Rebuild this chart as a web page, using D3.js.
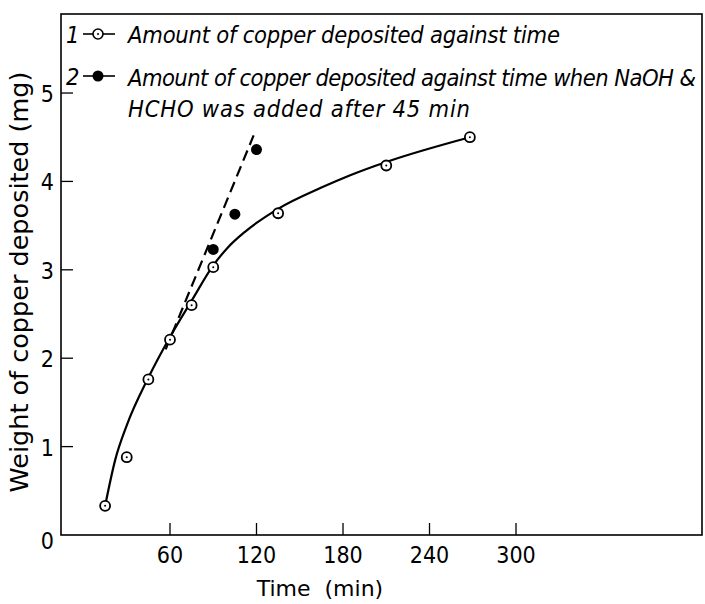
<!DOCTYPE html>
<html>
<head>
<meta charset="utf-8">
<script src="https://cdn.jsdelivr.net/npm/d3@7"></script>
<style>
  body { margin: 0; background: #fff; }
  svg text { fill: #000; }
  .tick-lab { font-family: "Liberation Sans Narrow", "DejaVu Sans Condensed", sans-serif; font-size: 23px; }
  .axis-title { font-family: "DejaVu Sans", sans-serif; font-size: 25.5px; }
  .legend { font-family: "Liberation Sans Narrow", "DejaVu Sans Condensed", sans-serif; font-size: 23.5px; font-style: italic; }
</style>
</head>
<body>
<svg id="chart" width="705" height="604"></svg>
<script>
// series 1: copper deposited against time (open circles)
const time1 = [15, 30, 45, 60, 75, 90, 135, 210, 268];
const weight1 = [0.33, 0.88, 1.76, 2.21, 2.6, 3.03, 3.64, 4.18, 4.5];
// smooth hand-drawn curve through series 1
const curveTime = [15, 22, 30, 45, 60, 75, 90, 100, 112, 135, 165, 185, 210, 268];
const curveWeight = [0.33, 0.85, 1.24, 1.78, 2.24, 2.65, 3.05, 3.25, 3.43, 3.69, 3.93, 4.07, 4.22, 4.5];
// series 2: NaOH & HCHO added after 45 min (filled circles)
const time2 = [90, 105, 120];
const weight2 = [3.23, 3.63, 4.36];
// dashed trend line for series 2
const dashTime = [57, 118];
const dashWeight = [2.1, 4.52];

const xTicks = [60, 120, 180, 240, 300];
const yTicks = [1, 2, 3, 4, 5];
const legendLines = [
  "Amount of copper deposited against time",
  "Amount of copper deposited against time when NaOH &",
  "HCHO was added after 45 min"
];

const width = 705, height = 604;
const margin = { top: 14, right: 3, bottom: 69, left: 61 };
const innerWidth = width - margin.left - margin.right,
  innerHeight = height - margin.top - margin.bottom;

const svg = d3.select('#chart');
const g = svg.append('g').attr('transform', `translate(${margin.left},${margin.top})`);

var xScale = d3.scaleLinear().domain([-15.6, 429]).range([0, innerWidth]);
var yScale = d3.scaleLinear().domain([0, 5.894]).range([innerHeight, 0]);

// frame
g.append('rect').attr('x', 0).attr('y', 0).attr('width', innerWidth).attr('height', innerHeight)
  .attr('fill', 'none').attr('stroke', '#000').attr('stroke-width', 1.6);

// x ticks (inward)
g.selectAll('.xtick').data(xTicks).join('line').attr('class', 'xtick')
  .attr('x1', d => xScale(d)).attr('x2', d => xScale(d))
  .attr('y1', innerHeight).attr('y2', innerHeight - 12)
  .attr('stroke', '#000').attr('stroke-width', 1.3);
g.selectAll('.xlab').data(xTicks).join('text').attr('class', 'xlab tick-lab')
  .attr('x', d => xScale(d)).attr('y', innerHeight + 28)
  .attr('text-anchor', 'middle').text(d => d);

// y ticks (inward)
g.selectAll('.ytick').data(yTicks).join('line').attr('class', 'ytick')
  .attr('x1', 0).attr('x2', 12)
  .attr('y1', d => yScale(d)).attr('y2', d => yScale(d))
  .attr('stroke', '#000').attr('stroke-width', 1.3);
g.selectAll('.ylab').data(yTicks).join('text').attr('class', 'ylab tick-lab')
  .attr('x', -7).attr('y', d => yScale(d) + 9)
  .attr('text-anchor', 'end').text(d => d);
// shared origin label
g.append('text').attr('class', 'tick-lab').attr('x', -7).attr('y', yScale(0) + 14)
  .attr('text-anchor', 'end').text('0');

// axis titles
g.append('text').attr('class', 'axis-title').attr('text-anchor', 'middle')
  .attr('transform', `translate(${-33},${yScale(0) - 253}) rotate(-90)`)
  .text('Weight of copper deposited (mg)');
g.append('text').attr('class', 'axis-title').attr('text-anchor', 'middle')
  .attr('x', xScale(164)).attr('y', innerHeight + 61).style('font-size', '22px')
  .style('white-space', 'pre').text('Time  (min)');

// solid curve
const curveData = curveTime.map((t, i) => [t, curveWeight[i]]);
const line = d3.line().x(d => xScale(d[0])).y(d => yScale(d[1])).curve(d3.curveMonotoneX);
g.append('path').datum(curveData).attr('d', line)
  .attr('fill', 'none').attr('stroke', '#000').attr('stroke-width', 2.2);

// dashed line
const dashData = dashTime.map((t, i) => [t, dashWeight[i]]);
g.append('path').datum(dashData).attr('d', d3.line().x(d => xScale(d[0])).y(d => yScale(d[1])))
  .attr('fill', 'none').attr('stroke', '#000').attr('stroke-width', 2.2).attr('stroke-dasharray', '11,6');

// open circles
const pts1 = time1.map((t, i) => [t, weight1[i]]);
g.selectAll('.open').data(pts1).join('circle').attr('class', 'open')
  .attr('cx', d => xScale(d[0])).attr('cy', d => yScale(d[1])).attr('r', 5)
  .attr('fill', '#fff').attr('stroke', '#000').attr('stroke-width', 1.8);
g.selectAll('.dot').data(pts1).join('circle').attr('class', 'dot')
  .attr('cx', d => xScale(d[0])).attr('cy', d => yScale(d[1])).attr('r', 1).attr('fill', '#000');

// filled circles
const pts2 = time2.map((t, i) => [t, weight2[i]]);
g.selectAll('.filled').data(pts2).join('circle').attr('class', 'filled')
  .attr('cx', d => xScale(d[0])).attr('cy', d => yScale(d[1])).attr('r', 5.5).attr('fill', '#000');

// legend
const leg = svg.append('g');
const legRows = [34, 76];
leg.selectAll('.num').data(['1', '2']).join('text').attr('class', 'legend')
  .attr('x', 66).attr('y', (d, i) => legRows[i] + 9).text(d => d);
leg.selectAll('.lline').data(legRows).join('line')
  .attr('x1', 83).attr('x2', 115).attr('y1', d => d).attr('y2', d => d)
  .attr('stroke', '#000').attr('stroke-width', 1.6);
leg.append('circle').attr('cx', 98).attr('cy', legRows[0]).attr('r', 5)
  .attr('fill', '#fff').attr('stroke', '#000').attr('stroke-width', 1.6);
leg.append('circle').attr('cx', 98).attr('cy', legRows[0]).attr('r', 1).attr('fill', '#000');
leg.append('circle').attr('cx', 98).attr('cy', legRows[1]).attr('r', 5.5).attr('fill', '#000');
const legY = [43, 86, 117];
const legLen = [432, 568, 342];
leg.selectAll('.ltext').data(legendLines).join('text').attr('class', 'legend')
  .attr('x', 128).attr('y', (d, i) => legY[i])
  .attr('textLength', (d, i) => legLen[i]).attr('lengthAdjust', 'spacing')
  .text(d => d);
</script>
</body>
</html>
